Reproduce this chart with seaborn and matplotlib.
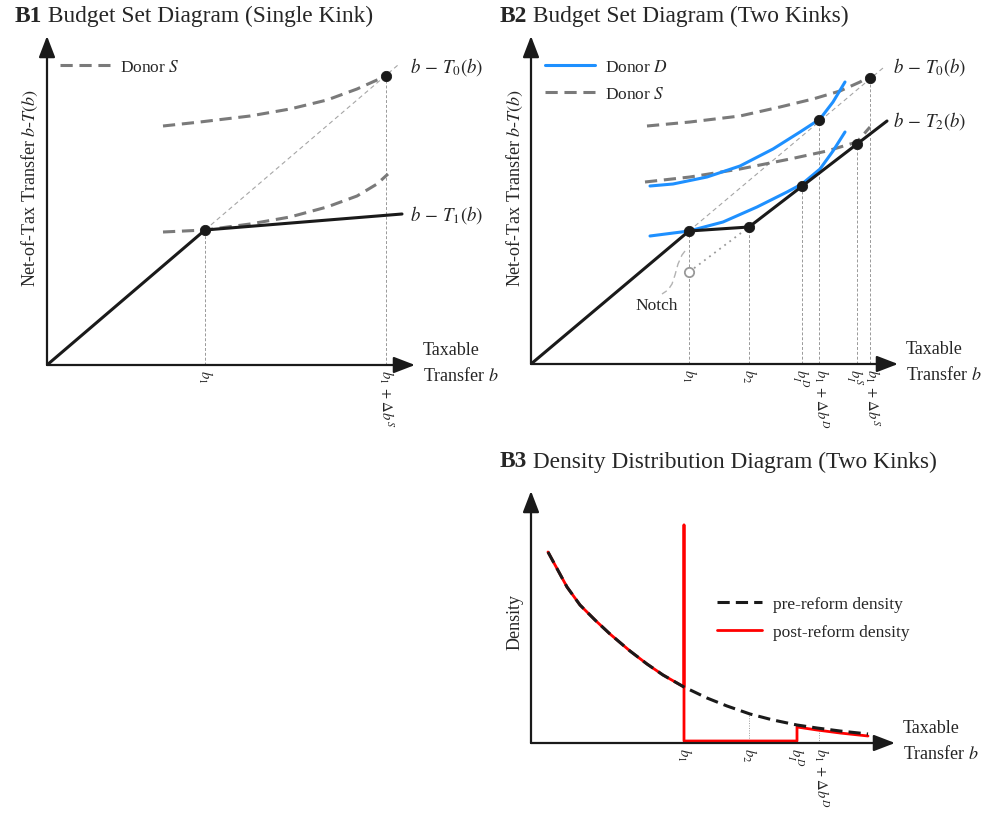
import matplotlib
matplotlib.use("Agg")
import matplotlib.pyplot as plt
import matplotlib.transforms as mtransforms
from matplotlib.lines import Line2D
import seaborn as sns

# all values (units: offset from each panel's origin)
# ---- B1 single kink
b1_budget_x = [0, 158, 355]
b1_budget_y = [0, 135, 151]
b1_t0_x = [158, 351]
b1_t0_y = [135, 300]
b1_dots_x = [158, 339]
b1_dots_y = [135, 289]
b1_s_hi_x = [116, 153, 203, 243, 280, 310, 330, 340]
b1_s_hi_y = [239, 243, 249, 256, 265, 276, 285, 289]
b1_s_lo_x = [116, 158, 203, 243, 280, 310, 330, 341]
b1_s_lo_y = [133, 135, 141, 148, 158, 169, 181, 191]
b1_ticks = [158, 339]
b1_tops = [135, 289]
b1_ticklabels = [r"$b_1$", r"$b_1\,+\,\Delta b^S$"]

# ---- B2 two kinks
b2_budget_x = [0, 158, 218, 356]
b2_budget_y = [0, 133, 137, 243]
b2_t0_x = [158, 352]
b2_t0_y = [133, 296]
b2_dots_x = [158, 218, 271, 288, 326, 339]
b2_dots_y = [133, 137, 178, 244, 220, 286]
b2_notch_x = [158, 218]
b2_notch_y = [92, 137]
b2_d_hi_x = [119, 142, 176, 209, 242, 269, 289, 302, 314]
b2_d_hi_y = [178, 180, 187, 198, 215, 232, 245, 262, 282]
b2_d_lo_x = [119, 158, 192, 226, 256, 271, 289, 302, 314]
b2_d_lo_y = [128, 133, 142, 157, 172, 180, 195, 213, 232]
b2_s_hi_x = [116, 159, 209, 249, 282, 309, 329, 339]
b2_s_hi_y = [238, 242, 248, 257, 265, 273, 282, 288]
b2_s_lo_x = [114, 159, 209, 259, 296, 326, 339]
b2_s_lo_y = [182, 187, 195, 205, 213, 222, 237]
b2_ticks = [158, 218, 271, 288, 326, 339]
b2_tops = [133, 137, 178, 244, 220, 286]
b2_ticklabels = [r"$b_1$", r"$b_2$", r"$b_I^D$", r"$b_1\,+\,\Delta b^D$",
                 r"$b_I^S$", r"$b_1\,+\,\Delta b^S$"]
notch_x = [154, 151, 147, 144, 141, 137, 131]
notch_y = [113, 109, 100, 89, 80, 74, 70]

# ---- B3 density
pre_x = [17, 36, 49, 64, 79, 99, 116, 132, 153, 176, 196, 219, 242, 266, 286, 309, 337]
pre_y = [191, 156, 138, 123, 109, 92, 79, 68, 56, 45, 37, 29, 23, 18, 15, 12, 9]
post_x = [17, 36, 49, 64, 79, 99, 116, 132, 153, 153, 153, 266, 266, 286, 309, 337]
post_y = [191, 156, 138, 123, 109, 92, 79, 68, 56, 218, 2, 2, 16, 13, 10, 7]
b3_ticks = [153, 218, 266, 288]
b3_guides_x = [218, 288]
b3_guides_top = [29, 14]
b3_ticklabels = [r"$b_1$", r"$b_2$", r"$b_I^D$", r"$b_1\,+\,\Delta b^D$"]

BLUE = "#1e90ff"
GREY = "#7a7a7a"

sns.set_theme(style="white")
plt.rcParams["font.family"] = ["Liberation Serif", "DejaVu Serif"]
plt.rcParams["mathtext.fontset"] = "stix"

fig = plt.figure(figsize=(10.02, 8.2), dpi=100)
W, H = 1002, 820


def make_axes(ox, oy, w, h):
    ax = fig.add_axes([ox / W, (H - oy) / H, w / W, h / H])
    ax.set_xlim(0, w)
    ax.set_ylim(0, h)
    ax.set_facecolor("none")
    sns.despine(ax=ax, left=True, bottom=True)
    ax.set_yticks([])
    ax.tick_params(axis="x", length=0, pad=3, labelsize=10.5)
    arr = dict(arrowstyle="-|>,head_length=1.3,head_width=0.5", lw=1.6,
               color="k", shrinkA=0, shrinkB=0, mutation_scale=10)
    ax.annotate("", xy=(w, 0), xytext=(0, 0), arrowprops=arr, annotation_clip=False)
    ax.annotate("", xy=(0, h), xytext=(0, 0), arrowprops=arr, annotation_clip=False)
    ax.text(w + 8, 15, "Taxable", fontsize=13, va="center", ha="left", clip_on=False)
    ax.text(w + 8, -10, r"Transfer $b$", fontsize=13, va="center", ha="left", clip_on=False)
    return ax


def set_ticks(ax, ticks, labels, nudge=None):
    ax.set_xticks(ticks)
    ax.set_xticklabels(labels, rotation=-90, ha="center", va="top")
    if nudge:
        for lab, dx in zip(ax.get_xticklabels(), nudge):
            off = mtransforms.ScaledTranslation(dx / 100, 0, fig.dpi_scale_trans)
            lab.set_transform(lab.get_transform() + off)


def guides(ax, xs, tops, ls=(0, (3, 2))):
    for x, t in zip(xs, tops):
        ax.plot([x, x], [0, t], color="0.6", lw=0.7, ls=ls, zorder=1)


def line(ax, x, y, **kw):
    sns.lineplot(x=x, y=y, ax=ax, sort=False, estimator=None, **kw)


def title(x, y, bold, rest):
    t1 = fig.text(x / W, 1 - y / H, bold, fontsize=16.8, fontweight="bold", va="center")
    plt.annotate(" " + rest, xy=(1, 0.5), xycoords=t1, fontsize=16.8, va="center",
                 annotation_clip=False)


GDASH = (0, (4, 2.2))

# ---------------- B1
ax1 = make_axes(47, 366, 368, 329)
guides(ax1, b1_ticks, b1_tops)
line(ax1, b1_t0_x, b1_t0_y, color="0.65", lw=0.8, linestyle=(0, (4, 3)))
line(ax1, b1_s_hi_x, b1_s_hi_y, linestyle=GDASH, color=GREY, lw=2.2)
line(ax1, b1_s_lo_x, b1_s_lo_y, linestyle=GDASH, color=GREY, lw=2.2)
line(ax1, b1_budget_x, b1_budget_y, color="k", lw=2.2)
sns.scatterplot(x=b1_dots_x, y=b1_dots_y, ax=ax1, color="k", s=55, zorder=5, edgecolor="k")
set_ticks(ax1, b1_ticks, b1_ticklabels)
ax1.text(363, 299, r"$b\,-\,T_0(b)$", fontsize=13.5, va="center", clip_on=False)
ax1.text(363, 151, r"$b\,-\,T_1(b)$", fontsize=13.5, va="center", clip_on=False)
ax1.text(-17, 178, r"Net-of-Tax Transfer $b$-$T(b)$", fontsize=13, rotation=90,
         va="center", ha="center", clip_on=False)
ax1.legend(handles=[Line2D([], [], color=GREY, lw=2.2, ls=GDASH)],
           labels=[r"Donor $S$"], loc="upper left", bbox_to_anchor=(0.035, 0.93),
           frameon=False, fontsize=12.5, handlelength=2.9, handletextpad=0.55,
           borderpad=0, borderaxespad=0)
title(15, 16, "B1", "Budget Set Diagram (Single Kink)")

# ---------------- B2
ax2 = make_axes(531, 365, 367, 328)
guides(ax2, b2_ticks, b2_tops)
line(ax2, b2_t0_x, b2_t0_y, color="0.65", lw=0.8, linestyle=(0, (4, 3)))
line(ax2, b2_notch_x, b2_notch_y, color="0.6", lw=1.3, linestyle=(0, (1, 2.5)))
line(ax2, notch_x, notch_y, color="0.7", lw=1.0, linestyle=(0, (5, 3)))
ax2.text(126, 59, "Notch", fontsize=12.5, ha="center", va="center")
line(ax2, b2_s_hi_x, b2_s_hi_y, linestyle=GDASH, color=GREY, lw=2.2)
line(ax2, b2_s_lo_x, b2_s_lo_y, linestyle=GDASH, color=GREY, lw=2.2)
line(ax2, b2_d_hi_x, b2_d_hi_y, color=BLUE, lw=2.2)
line(ax2, b2_d_lo_x, b2_d_lo_y, color=BLUE, lw=2.2)
line(ax2, b2_budget_x, b2_budget_y, color="k", lw=2.2)
sns.scatterplot(x=b2_dots_x, y=b2_dots_y, ax=ax2, color="k", s=55, zorder=5, edgecolor="k")
sns.scatterplot(x=[b2_notch_x[0]], y=[b2_notch_y[0]], ax=ax2, facecolor="white",
                edgecolor="0.6", linewidth=1.3, s=45, zorder=5)
set_ticks(ax2, b2_ticks, b2_ticklabels, nudge=[0, 0, -2, 2, -3, 2])
ax2.text(362, 298, r"$b\,-\,T_0(b)$", fontsize=13.5, va="center", clip_on=False)
ax2.text(362, 244, r"$b\,-\,T_2(b)$", fontsize=13.5, va="center", clip_on=False)
ax2.text(-16, 177, r"Net-of-Tax Transfer $b$-$T(b)$", fontsize=13, rotation=90,
         va="center", ha="center", clip_on=False)
ax2.legend(handles=[Line2D([], [], color=BLUE, lw=2.2),
                    Line2D([], [], color=GREY, lw=2.2, ls=GDASH)],
           labels=[r"Donor $D$", r"Donor $S$"], loc="upper left",
           bbox_to_anchor=(0.038, 0.93), frameon=False, fontsize=12.5,
           handlelength=2.9, handletextpad=0.55, labelspacing=0.62,
           borderpad=0, borderaxespad=0)
title(500, 16, "B2", "Budget Set Diagram (Two Kinks)")

# ---------------- B3
ax3 = make_axes(531, 744, 364, 252)
guides(ax3, b3_guides_x, b3_guides_top, ls=(0, (1, 1.5)))
line(ax3, post_x, post_y, color="red", lw=2.0)
line(ax3, pre_x, pre_y, color="k", lw=2.2, linestyle=(0, (4, 2)))
set_ticks(ax3, b3_ticks, b3_ticklabels, nudge=[0, 0, -2, 2])
ax3.text(-16, 122, "Density", fontsize=13, rotation=90, va="center", ha="center",
         clip_on=False)
ax3.legend(handles=[Line2D([], [], color="k", lw=2.2, ls=(0, (4, 2))),
                    Line2D([], [], color="red", lw=2.0)],
           labels=["pre-reform density", "post-reform density"], loc="upper left",
           bbox_to_anchor=(0.511, 0.585), frameon=False, fontsize=12.5,
           handlelength=2.6, handletextpad=0.6, labelspacing=0.7,
           borderpad=0, borderaxespad=0)
title(500, 462, "B3", "Density Distribution Diagram (Two Kinks)")

fig.savefig("out.png", dpi=100)
